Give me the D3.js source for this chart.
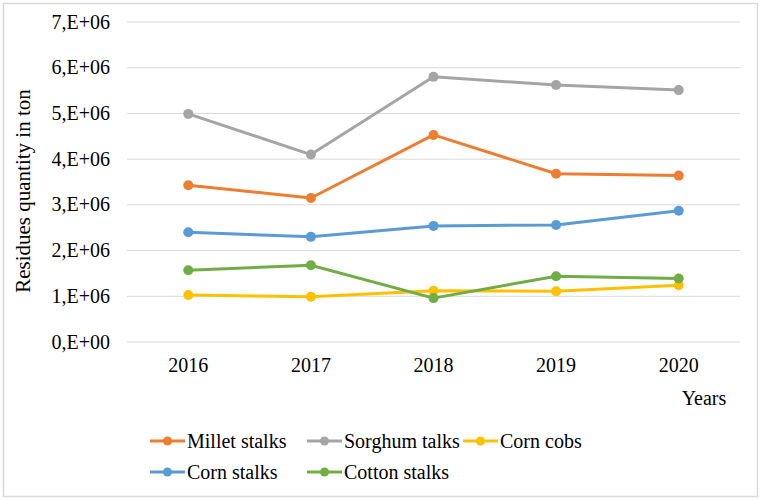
<!DOCTYPE html>
<html lang="en">
<head>
    <meta charset="UTF-8" />
    <script src="https://d3js.org/d3.v7.min.js"></script>
    <style>
        body { margin: 0; background: #fff; }
    </style>
</head>
<body>
    <svg id="chart"></svg>
    <script>
        const years = ["2016", "2017", "2018", "2019", "2020"];
        const yTicks = [0, 1e6, 2e6, 3e6, 4e6, 5e6, 6e6, 7e6];
        const seriesNames = ["Millet stalks", "Sorghum talks", "Corn cobs", "Corn stalks", "Cotton stalks"];
        const milletStalks = [3.43e6, 3.15e6, 4.53e6, 3.68e6, 3.64e6];
        const sorghumTalks = [4.99e6, 4.10e6, 5.80e6, 5.62e6, 5.51e6];
        const cornCobs = [1.03e6, 0.99e6, 1.12e6, 1.11e6, 1.24e6];
        const cornStalks = [2.40e6, 2.30e6, 2.54e6, 2.56e6, 2.87e6];
        const cottonStalks = [1.57e6, 1.68e6, 0.96e6, 1.44e6, 1.39e6];
        const colors = ["#ED7D31", "#A5A5A5", "#FFC000", "#5B9BD5", "#70AD47"];

        const series = [milletStalks, sorghumTalks, cornCobs, cornStalks, cottonStalks]
            .map((vals, i) => ({ name: seriesNames[i], color: colors[i], values: vals }));

        const W = 762, H = 500;
        const FONT = "'Liberation Serif', 'Times New Roman', 'DejaVu Serif', serif";
        const svg = d3.select("#chart")
            .attr("width", W).attr("height", H)
            .attr("font-family", FONT)
            .style("font-family", FONT);

        // outer frame
        svg.append("rect")
            .attr("x", 3.5).attr("y", 3.5)
            .attr("width", 754).attr("height", 493)
            .attr("fill", "#fff").attr("stroke", "#d9d9d9").attr("stroke-width", 1.5);

        const plot = { left: 127, right: 740, top: 22, bottom: 342 };

        const x = d3.scaleBand().domain(years).range([plot.left, plot.right]);
        const y = d3.scaleLinear().domain([0, 7e6]).range([plot.bottom, plot.top]);

        // gridlines
        svg.append("g")
            .selectAll("line")
            .data(yTicks)
            .join("line")
            .attr("x1", plot.left).attr("x2", plot.right)
            .attr("y1", d => y(d)).attr("y2", d => y(d))
            .attr("stroke", "#d9d9d9").attr("stroke-width", 1);

        // y labels
        const fmt = d => (d / 1e6).toFixed(0) + (d === 0 ? ",E+00" : ",E+06");
        svg.append("g")
            .selectAll("text")
            .data(yTicks)
            .join("text")
            .attr("x", 110)
            .attr("y", d => y(d))
            .attr("dy", "0.33em")
            .attr("text-anchor", "end")
            .style("font-size", "20px")
            .text(fmt);

        // x labels
        svg.append("g")
            .selectAll("text")
            .data(years)
            .join("text")
            .attr("x", d => x(d) + x.bandwidth() / 2)
            .attr("y", 372)
            .attr("text-anchor", "middle")
            .style("font-size", "20px")
            .text(d => d);

        svg.append("text")
            .attr("x", 704).attr("y", 405)
            .attr("text-anchor", "middle")
            .style("font-size", "20px")
            .text("Years");

        svg.append("text")
            .attr("transform", "translate(30, 191) rotate(-90)")
            .attr("text-anchor", "middle")
            .style("font-size", "21px")
            .text("Residues quantity in ton");

        const line = d3.line()
            .x((d, i) => x(years[i]) + x.bandwidth() / 2)
            .y(d => y(d));

        series.forEach(s => {
            const g = svg.append("g");
            g.append("path")
                .attr("d", line(s.values))
                .attr("fill", "none")
                .attr("stroke", s.color)
                .attr("stroke-width", 3)
                .attr("stroke-linejoin", "round");
            g.selectAll("circle")
                .data(s.values)
                .join("circle")
                .attr("cx", (d, i) => x(years[i]) + x.bandwidth() / 2)
                .attr("cy", d => y(d))
                .attr("r", 5)
                .attr("fill", s.color);
        });

        // legend
        const legendPos = [[150, 441], [307, 441], [463, 441], [150, 472], [307, 472]];
        series.forEach((s, i) => {
            const [lx, ly] = legendPos[i];
            const g = svg.append("g").attr("transform", `translate(${lx},${ly})`);
            g.append("line")
                .attr("x1", 0).attr("x2", 35)
                .attr("stroke", s.color).attr("stroke-width", 3);
            g.append("circle").attr("cx", 17.5).attr("r", 4.5).attr("fill", s.color);
            g.append("text")
                .attr("x", 37).attr("dy", "0.33em")
                .style("font-size", "20px")
                .text(s.name);
        });
    </script>
</body>
</html>
